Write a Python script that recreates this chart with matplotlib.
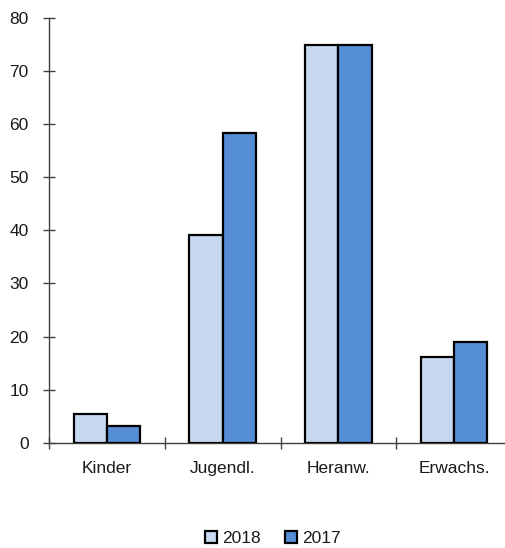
import numpy as np
import matplotlib.pyplot as plt
from matplotlib.patches import Patch

categories = ['Kinder', 'Jugendl.', 'Heranw.', 'Erwachs.']
vals_2018 = [5.4, 39.1, 75.0, 16.2]
vals_2017 = [3.1, 58.3, 75.0, 19.0]
y_ticks = [0, 10, 20, 30, 40, 50, 60, 70, 80]

c_2018 = '#C6D9F1'
c_2017 = '#558ED5'
axis_col = '#404040'

plt.rcParams['font.family'] = ['Liberation Sans Narrow', 'Liberation Sans', 'DejaVu Sans']
plt.rcParams['font.size'] = 12.5
plt.rcParams['text.color'] = '#1a1a1a'
plt.rcParams['xtick.labelcolor'] = '#1a1a1a'
plt.rcParams['ytick.labelcolor'] = '#1a1a1a'

fig = plt.figure(figsize=(5.05, 5.48), dpi=100)
ax = fig.add_axes([49 / 505, 1 - 442.7 / 548, 463 / 505, (442.7 - 18) / 548])

x = np.arange(len(categories))
w = 0.288
ax.bar(x - w / 2, vals_2018, w, color=c_2018, edgecolor='black', linewidth=1.6, zorder=3)
ax.bar(x + w / 2, vals_2017, w, color=c_2017, edgecolor='black', linewidth=1.6, zorder=3)

ax.set_xlim(-0.5, 3.5)
ax.set_ylim(0, 80)
ax.set_yticks(y_ticks)
ax.set_xticks([-0.5, 0.5, 1.5, 2.5])
ax.set_xticklabels([])
ax.set_xticks(x, minor=True)
ax.set_xticklabels(categories, minor=True)

for s in ['top', 'right']:
    ax.spines[s].set_visible(False)
for s in ['left', 'bottom']:
    ax.spines[s].set_color(axis_col)
    ax.spines[s].set_linewidth(1.0)

ax.tick_params(axis='y', direction='inout', length=9, width=1.0, color=axis_col, pad=10)
ax.tick_params(axis='x', which='major', direction='inout', length=9, width=1.0, color=axis_col)
ax.tick_params(axis='x', which='minor', length=0, pad=13)

handles = [Patch(facecolor=c_2018, edgecolor='black', linewidth=1.6, label='2018'),
           Patch(facecolor=c_2017, edgecolor='black', linewidth=1.6, label='2017')]
fig.legend(handles=handles, loc='center', bbox_to_anchor=(0.54, 0.018), ncol=2, frameon=False,
           handlelength=0.7, handleheight=0.7, handletextpad=0.3, columnspacing=1.4)

fig.savefig('out.png', dpi=100)
